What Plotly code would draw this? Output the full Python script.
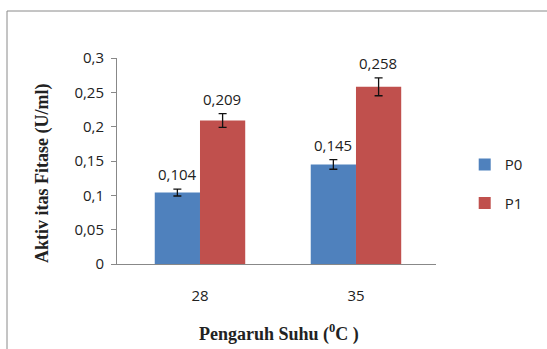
import plotly.graph_objects as go

categories = ["28", "35"]
series_names = ["P0", "P1"]
p0_values = [0.104, 0.145]
p1_values = [0.209, 0.258]
p0_errors = [0.005, 0.007]
p1_errors = [0.010, 0.013]
value_labels_p0 = ["0,104", "0,145"]
value_labels_p1 = ["0,209", "0,258"]
colors = ["#4F81BD", "#C0504D"]
x_title = "Pengaruh Suhu (<sup>0</sup>C )"
y_title = "Aktiv itas Fitase (U/ml)"

W, H = 547, 349
L, R, T, B = 117, 111, 58, 85
PW, PH = W - L - R, H - T - B
TXT = dict(family="Open Sans, sans-serif", size=15, color="#222")
TITLE = dict(family="Liberation Serif, serif", size=18, color="#222", weight="bold")

fig = go.Figure()
for name, vals, errs, col in zip(series_names, [p0_values, p1_values], [p0_errors, p1_errors], colors):
    fig.add_trace(go.Bar(
        x=categories, y=vals, name=name, legendgroup=name,
        marker=dict(color=col, line=dict(width=0)),
        error_y=dict(type="data", array=errs, visible=True, color="#111", thickness=1.3, width=4),
    ))

offsets = [-22.5, 22.5]
for vals, errs, labels, off in zip([p0_values, p1_values], [p0_errors, p1_errors],
                                   [value_labels_p0, value_labels_p1], offsets):
    for i, (v, e, lab) in enumerate(zip(vals, errs, labels)):
        fig.add_annotation(x=i, y=v + e, xref="x", yref="y", text=lab, showarrow=False,
                           xshift=off, yanchor="bottom", yshift=3, font=TXT)

# axis titles placed as annotations
fig.add_annotation(text=y_title, textangle=-90, xref="paper", yref="paper",
                   x=(42 - L) / PW, y=(H - B - 174) / PH, xanchor="center", yanchor="middle",
                   showarrow=False, font=TITLE)
fig.add_annotation(text=x_title, xref="paper", yref="paper",
                   x=(279 - L) / PW, y=(H - B - 333) / PH, xanchor="center", yanchor="middle",
                   showarrow=False, font=TITLE)

# outer frame of the chart area
fig.add_shape(type="rect", xref="paper", yref="paper",
              x0=(7 - L) / PW, x1=(560 - L) / PW,
              y0=(H - B - 360) / PH, y1=(H - B - 11) / PH,
              line=dict(color="#8a8a8a", width=1), layer="below")

fig.update_layout(
    width=W, height=H,
    margin=dict(l=L, r=R, t=T, b=B, autoexpand=False),
    paper_bgcolor="white", plot_bgcolor="white",
    separators=",.",
    barmode="group", bargap=0.42, bargroupgap=0,
    showlegend=True,
    legend=dict(x=1.09, y=0.39, xanchor="left", yanchor="middle", font=TXT,
                tracegroupgap=16, itemwidth=30, bgcolor="rgba(0,0,0,0)"),
    font=TXT,
)
fig.update_xaxes(type="category", range=[-0.532, 1.513], showline=True, linecolor="#888", linewidth=1,
                 ticks="", showgrid=False, ticklabelstandoff=18, tickfont=TXT, automargin=False)
fig.update_yaxes(range=[0, 0.3], dtick=0.05, showline=True, linecolor="#888", linewidth=1,
                 ticks="outside", ticklen=5, tickcolor="#888", showgrid=False, zeroline=False,
                 ticklabelstandoff=4, tickfont=TXT, automargin=False)

fig.write_html("out.html", config={"displayModeBar": False},
               post_script="document.body.style.margin='0';")
